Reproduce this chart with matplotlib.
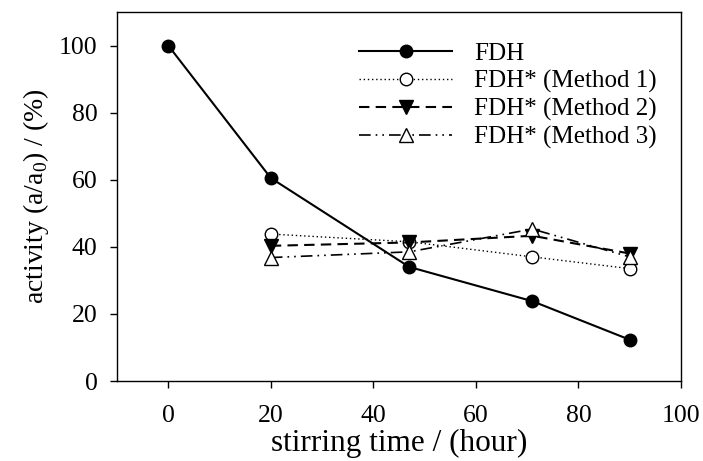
import matplotlib
matplotlib.use("Agg")
import matplotlib.pyplot as plt

plt.rcParams['font.family'] = ['Liberation Serif', 'DejaVu Serif']
plt.rcParams['mathtext.fontset'] = 'custom'
plt.rcParams['mathtext.rm'] = 'Liberation Serif'

# stirring time (hour) and relative activity (%)
hours_fdh = [0, 20, 47, 71, 90]
fdh = [100, 60.5, 34, 23.8, 12.3]

hours_mod = [20, 47, 71, 90]
method1 = [43.8, 41.5, 37, 33.5]
method2 = [40.3, 41.3, 43.3, 38]
method3 = [36.8, 38.5, 45.3, 37]

fig = plt.figure(figsize=(7.03, 4.61), dpi=100)
ax = fig.add_axes([117 / 703, 1 - 381 / 461, (681 - 117) / 703, (381 - 12) / 461])

ax.plot(hours_fdh, fdh, color='black', lw=1.5, marker='o', ms=9,
        mfc='black', mec='black', label='FDH')
ax.plot(hours_mod, method1, color='black', lw=1.0, ls=(0, (1, 2)), marker='o',
        ms=9, mfc='white', mec='black', mew=1.0, label='FDH* (Method 1)')
ax.plot(hours_mod, method2, color='black', lw=1.5, ls=(0, (5, 3)), marker='v',
        ms=9.5, mfc='black', mec='black', label='FDH* (Method 2)')
ax.plot(hours_mod, method3, color='black', lw=1.2, ls=(0, (7, 3, 1, 3, 1, 3)),
        marker='^', ms=9.5, mfc='white', mec='black', mew=1.0,
        label='FDH* (Method 3)')

ax.set_xlim(-10, 100)
ax.set_ylim(0, 110)
ax.set_xticks([0, 20, 40, 60, 80, 100])
ax.set_yticks([0, 20, 40, 60, 80, 100])
ax.tick_params(direction='out', length=5, width=1, labelsize=18.5)
ax.tick_params(axis='x', pad=12)
ax.tick_params(axis='y', pad=9)
for s in ax.spines.values():
    s.set_linewidth(1)

ax.set_xlabel('stirring time / (hour)', fontsize=22.5, labelpad=2)
ax.set_ylabel('activity (a/a$_0$) / (%)', fontsize=20, labelpad=6)

ax.legend(loc='upper left', bbox_to_anchor=(0.412, 0.945), frameon=False,
          fontsize=18, handlelength=3.7, handletextpad=0.9,
          labelspacing=0.2, borderaxespad=0)

fig.savefig('out.png', dpi=100)
